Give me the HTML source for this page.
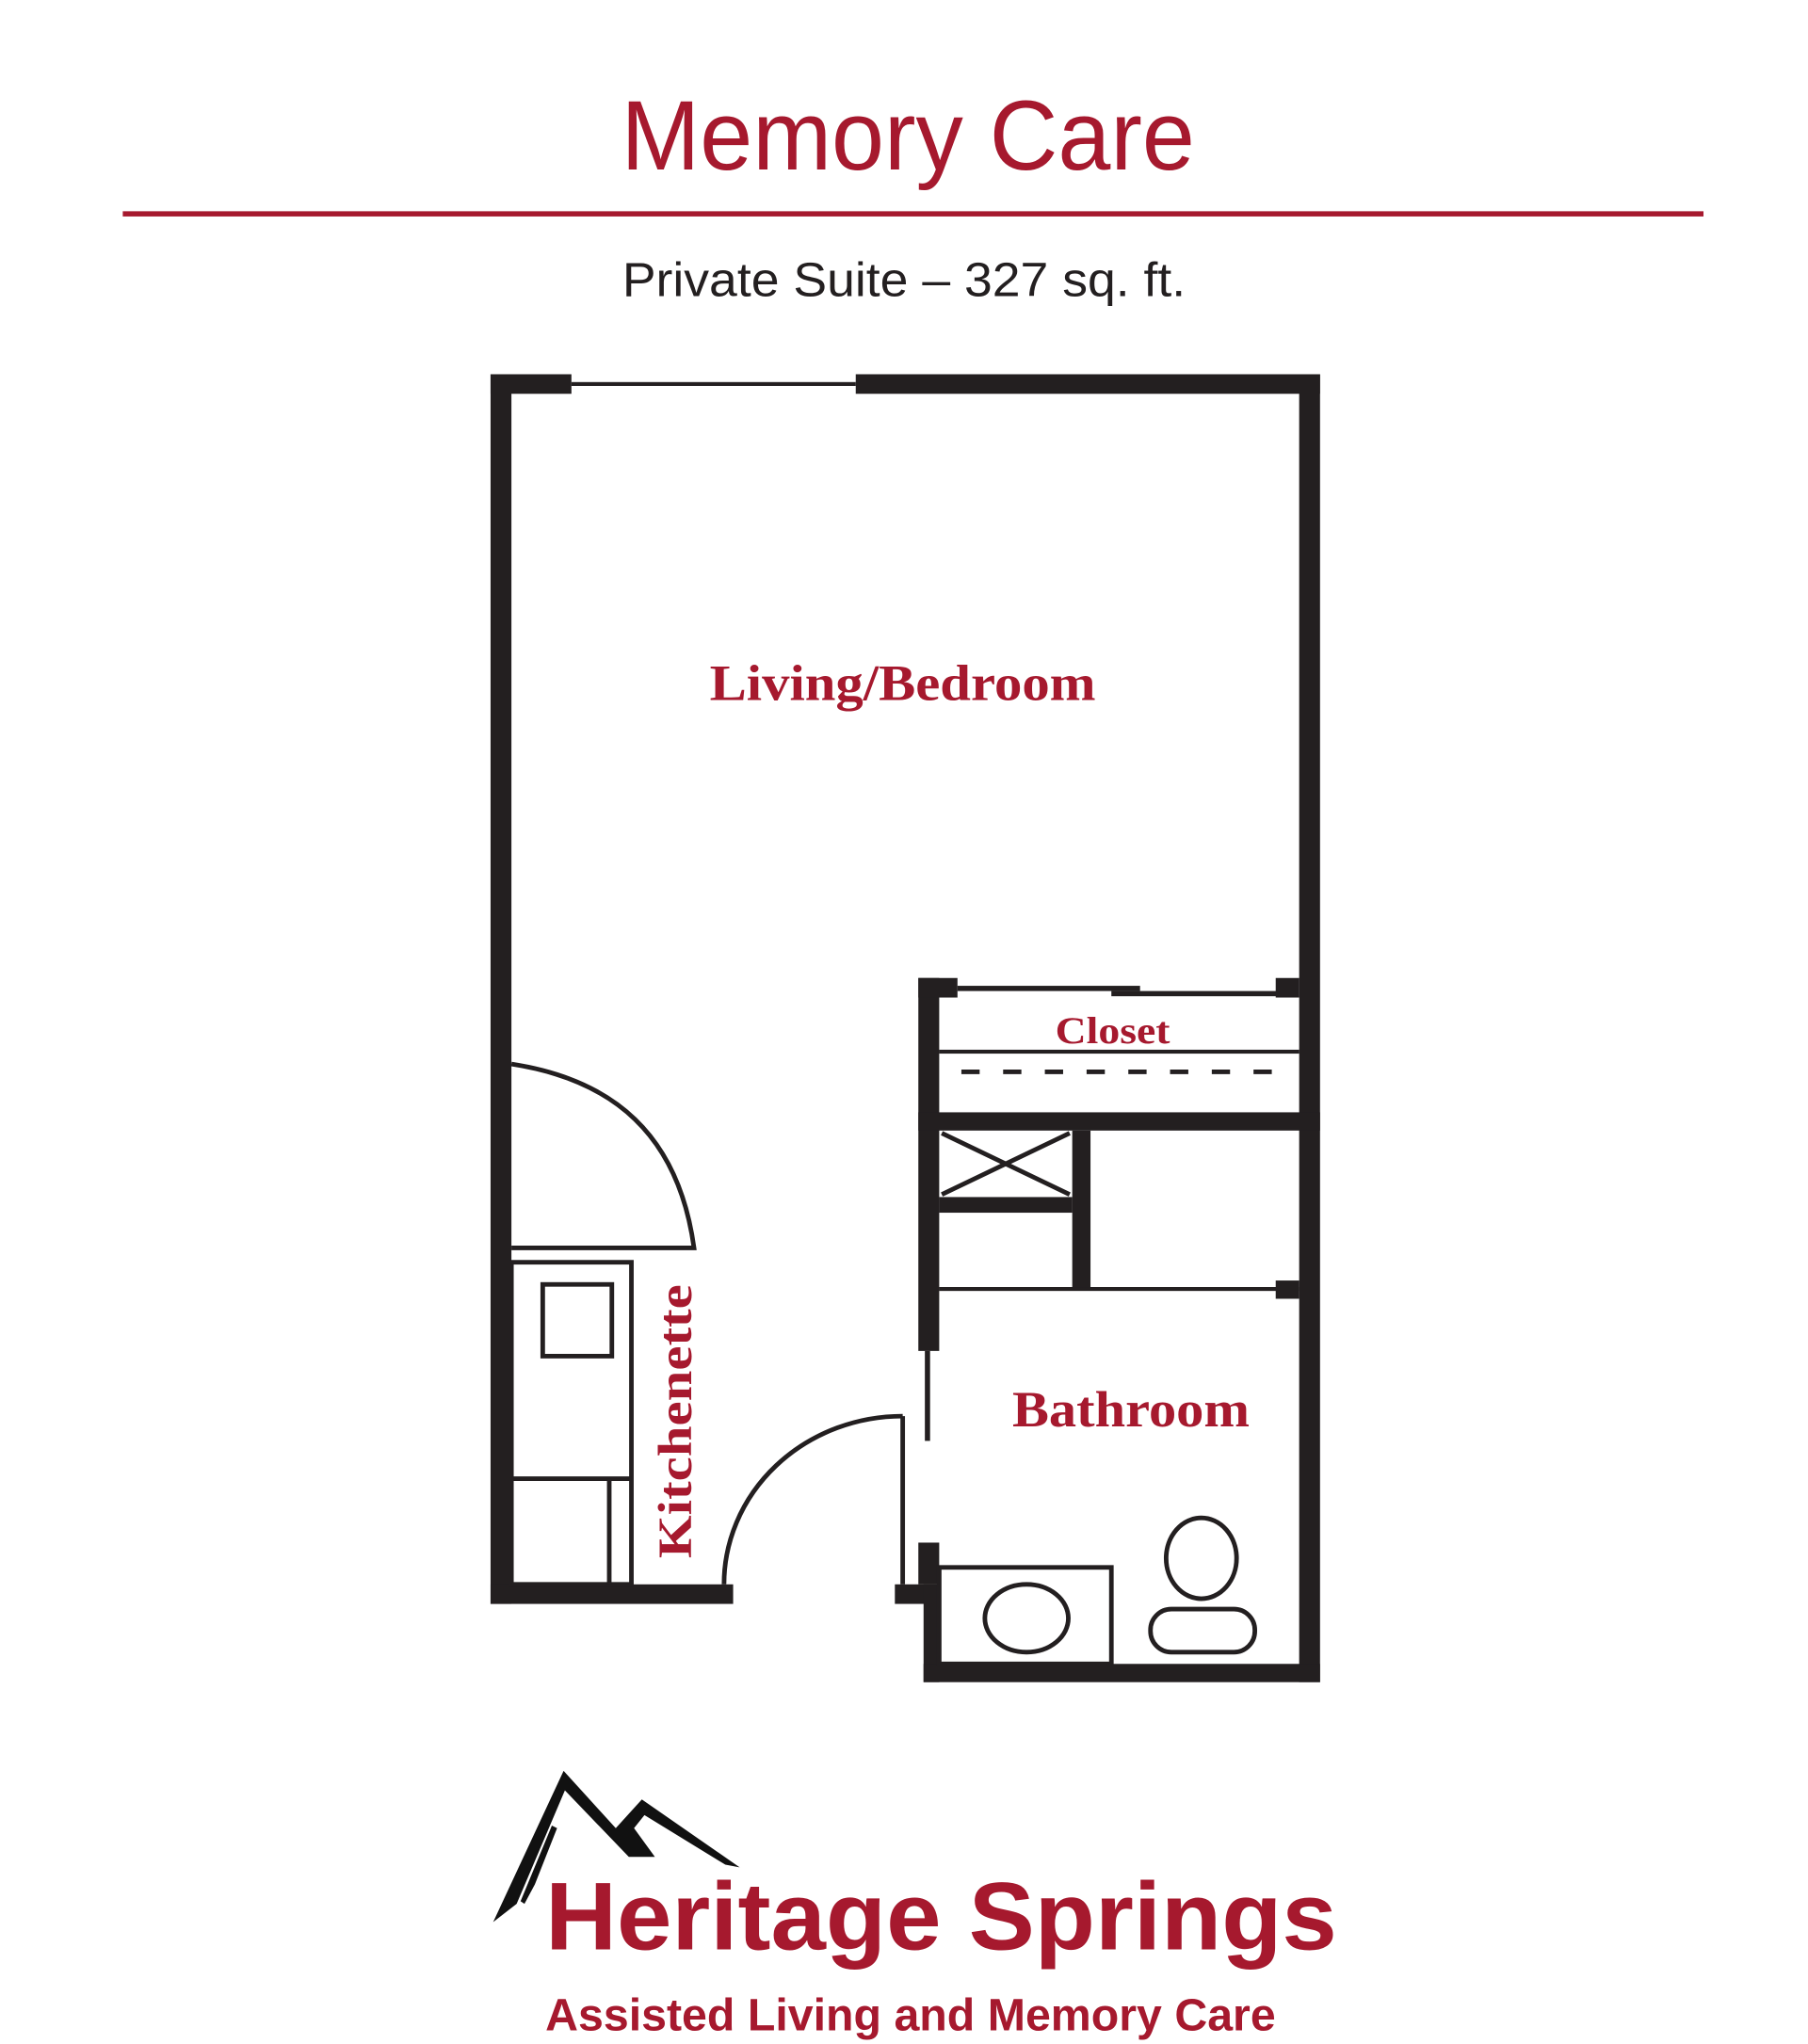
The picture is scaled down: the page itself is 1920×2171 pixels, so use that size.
<!DOCTYPE html>
<html><head><meta charset="utf-8"><style>
html,body{margin:0;padding:0;background:#fff;}
svg{display:block}
</style></head><body>
<svg width="1920" height="2171" viewBox="0 0 1386 1567.5" xmlns="http://www.w3.org/2000/svg">
<rect width="1386" height="1567.5" fill="#fff"/>
<text x="476" y="130" font-family="Liberation Sans, sans-serif" font-size="76" fill="#a6192e" textLength="440" lengthAdjust="spacingAndGlyphs">Memory Care</text>
<rect x="94" y="162" width="1212" height="4" fill="#a6192e"/>
<text x="477" y="227" font-family="Liberation Sans, sans-serif" font-size="37" fill="#231f20" textLength="432" lengthAdjust="spacingAndGlyphs">Private Suite – 327 sq. ft.</text>
<g fill="#231f20">
<rect x="376" y="287" width="16" height="943"/>
<rect x="376" y="287" width="62" height="15"/>
<rect x="438" y="293" width="218" height="3"/>
<rect x="656" y="287" width="356" height="15"/>
<rect x="996" y="287" width="16" height="1003"/>
<rect x="376" y="1215" width="186" height="15"/>
<rect x="704" y="750" width="16" height="286"/>
<rect x="709" y="1036" width="4" height="69"/>
<rect x="704" y="750" width="30" height="15"/>
<rect x="734" y="756" width="140" height="4"/>
<rect x="852" y="760" width="128" height="4"/>
<rect x="978" y="750" width="18" height="15"/>
<rect x="720" y="805" width="276" height="3"/>
<rect x="704" y="853" width="308" height="14"/>
<rect x="720" y="918" width="102" height="12"/>
<rect x="822" y="867" width="14" height="121"/>
<rect x="720" y="987" width="276" height="3"/>
<rect x="978" y="982" width="18" height="14"/>
<rect x="704" y="1183" width="16" height="32"/>
<rect x="686" y="1215" width="34" height="15"/>
<rect x="708" y="1215" width="12" height="75"/>
<rect x="708" y="1276" width="304" height="14"/>
</g>
<g fill="none" stroke="#231f20" stroke-width="3.5">
<line x1="737" y1="822" x2="982" y2="822" stroke-dasharray="14 18"/>
<line x1="722" y1="869" x2="820" y2="916"/>
<line x1="722" y1="916" x2="820" y2="869"/>
<rect x="720" y="1202" width="132" height="74"/>
<ellipse cx="787" cy="1241" rx="32" ry="26"/>
<ellipse cx="921" cy="1195" rx="27" ry="31"/>
<rect x="882" y="1234" width="80" height="33" rx="16"/>
<line x1="692" y1="1086" x2="692" y2="1215"/>
<path d="M692 1086 A 137 129 0 0 0 555 1215"/>
<path d="M392 816 C 470 828 520 870 532 957 L392 957"/>
<rect x="392" y="968" width="92" height="247"/>
<line x1="392" y1="1134" x2="484" y2="1134"/>
<line x1="467" y1="1134" x2="467" y2="1215"/>
<rect x="416" y="985" width="53" height="55"/>
</g>
<g font-family="Liberation Serif, serif" font-weight="bold" fill="#a6192e">
<text x="544" y="537" font-size="39" textLength="296" lengthAdjust="spacingAndGlyphs">Living/Bedroom</text>
<text x="809" y="800" font-size="29" textLength="88" lengthAdjust="spacingAndGlyphs">Closet</text>
<text x="776" y="1094" font-size="39" textLength="182" lengthAdjust="spacingAndGlyphs">Bathroom</text>
<text transform="translate(530 1195) rotate(-90)" font-size="37" textLength="210" lengthAdjust="spacingAndGlyphs">Kitchenette</text>
</g>
<path fill="#111" d="M378 1474 L432 1358 L472 1402 L492 1380 L567 1432 L556 1430 L494 1392 L486 1402 L502 1424 L482 1424 L433 1373 L413 1420 L396 1460 Z"/>
<path fill="#111" d="M423 1400 L427 1402 L410 1445 L402 1460 L399 1458 Z"/>
<text x="418" y="1495" font-family="Liberation Sans, sans-serif" font-weight="bold" font-size="74" fill="#a6192e" textLength="607" lengthAdjust="spacingAndGlyphs">Heritage Springs</text>
<text x="418" y="1557" font-family="Liberation Sans, sans-serif" font-weight="bold" font-size="35" fill="#a6192e" textLength="560" lengthAdjust="spacingAndGlyphs">Assisted Living and Memory Care</text>
</svg>
</body></html>
